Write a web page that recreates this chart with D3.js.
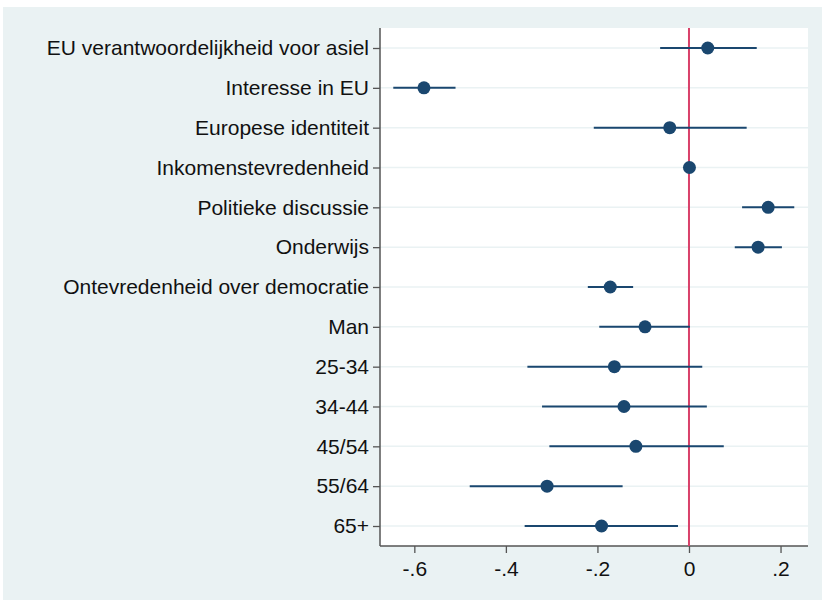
<!DOCTYPE html>
<html>
<head>
<meta http-equiv="Content-type" content="text/html; charset=utf-8">
<title>Coefficient plot</title>
<script src="https://cdn.jsdelivr.net/npm/d3@7"></script>
<style>
  body { margin: 0; background: #fff; }
  text { font-family: "Liberation Sans", Arial, sans-serif; fill: #111; }
</style>
</head>
<body>
<script type="text/javascript">

// row labels, top to bottom
var labels = ["EU verantwoordelijkheid voor asiel", "Interesse in EU", "Europese identiteit",
  "Inkomenstevredenheid", "Politieke discussie", "Onderwijs", "Ontevredenheid over democratie",
  "Man", "25-34", "34-44", "45/54", "55/64", "65+"];

// point estimates and confidence bounds
var estimates = [0.041, -0.579, -0.042, 0.001, 0.173, 0.151, -0.172, -0.096, -0.163, -0.142, -0.116, -0.310, -0.191];
var lower     = [-0.063, -0.646, -0.208, -0.003, 0.116, 0.100, -0.221, -0.196, -0.353, -0.321, -0.305, -0.479, -0.359];
var upper     = [0.148, -0.510, 0.126, 0.005, 0.230, 0.203, -0.122, 0.002, 0.029, 0.039, 0.076, -0.145, -0.024];

var xticks = [-0.6, -0.4, -0.2, 0, 0.2];

var W = 822, H = 600;
var plot = {left: 380, right: 808, top: 28, bottom: 546};
var navy = "#1a476f";

var svg = d3.select("body").append("svg").attr("width", W).attr("height", H);

// outer graph region
svg.append("rect").attr("x", 3).attr("y", 7).attr("width", W - 3).attr("height", H - 7).attr("fill", "#eaf2f3");
svg.append("rect").attr("x", plot.left).attr("y", plot.top)
  .attr("width", plot.right - plot.left).attr("height", plot.bottom - plot.top).attr("fill", "#fff");

var x = d3.scaleLinear().domain([-0.675, 0.26]).range([plot.left, plot.right]);
var y = d3.scalePoint().domain(labels).range([plot.top + 20, plot.bottom - 20]);

// grid lines
svg.selectAll(".grid").data(labels).enter().append("line")
  .attr("x1", plot.left).attr("x2", plot.right)
  .attr("y1", function(d){ return y(d); }).attr("y2", function(d){ return y(d); })
  .attr("stroke", "#eaf2f3").attr("stroke-width", 1.5);

// axes
var yAxis = d3.axisLeft(y).tickSize(7).tickPadding(4);
var gy = svg.append("g").attr("transform", "translate(" + plot.left + ",0)").call(yAxis);
gy.select(".domain").attr("d", "M0," + plot.top + "V" + plot.bottom);

var xAxis = d3.axisBottom(x).tickValues(xticks).tickSize(7).tickPadding(8)
  .tickFormat(function(d){ return d === 0 ? "0" : (d < 0 ? "-" : "") + String(Math.abs(d)).replace("0.", "."); });
var gx = svg.append("g").attr("transform", "translate(0," + plot.bottom + ")").call(xAxis);
gx.select(".domain").attr("d", "M" + plot.left + ",0H" + plot.right);

[gx, gy].forEach(function(g){
  g.selectAll(".domain").attr("stroke", "#555").attr("stroke-width", 1.5);
  g.selectAll(".tick line").attr("stroke", "#555").attr("stroke-width", 1.3);
  g.selectAll(".tick text").attr("font-size", 21).attr("fill", "#111")
    .style("font-family", "'Liberation Sans', Arial, sans-serif");
});

// reference line at zero
svg.append("line").attr("x1", x(0)).attr("x2", x(0)).attr("y1", plot.top).attr("y2", plot.bottom)
  .attr("stroke", "#d9416a").attr("stroke-width", 2);

// confidence intervals
svg.selectAll(".ci").data(labels).enter().append("line")
  .attr("x1", function(d, i){ return x(lower[i]); })
  .attr("x2", function(d, i){ return x(upper[i]); })
  .attr("y1", function(d){ return y(d); }).attr("y2", function(d){ return y(d); })
  .attr("stroke", navy).attr("stroke-width", 2);

// point estimates
svg.selectAll(".pt").data(labels).enter().append("circle")
  .attr("cx", function(d, i){ return x(estimates[i]); })
  .attr("cy", function(d){ return y(d); })
  .attr("r", 6.5).attr("fill", navy);

</script>
</body>
</html>
